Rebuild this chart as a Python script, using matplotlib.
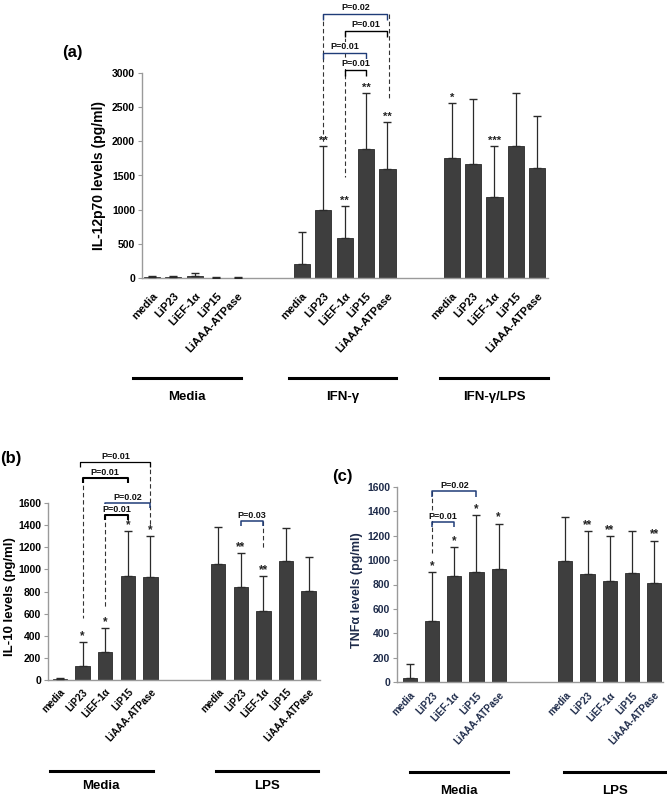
import matplotlib
matplotlib.use('Agg')
import matplotlib.pyplot as plt
import numpy as np
from matplotlib.transforms import blended_transform_factory
from matplotlib.lines import Line2D

plt.rcParams['font.family'] = ['Liberation Sans', 'DejaVu Sans']
plt.rcParams['font.weight'] = 'bold'

# ---------------- data ----------------
antigens = ['media', 'LiP23', 'LiEF-1α', 'LiP15', 'LiAAA-ATPase']

a_groups = ['Media', 'IFN-γ', 'IFN-γ/LPS']
a_mean = [[8, 8, 25, 5, 5], [210, 990, 590, 1890, 1600], [1760, 1670, 1180, 1935, 1610]]
a_err = [[22, 15, 45, 3, 3], [460, 940, 465, 820, 685], [800, 950, 755, 775, 760]]
a_stars = [['', '', '', '', ''], ['', '**', '**', '**', '**'], ['*', '', '***', '', '']]
a_ticks = [0, 500, 1000, 1500, 2000, 2500, 3000]

b_groups = ['Media', 'LPS']
b_mean = [[10, 130, 255, 940, 935], [1050, 840, 625, 1075, 805]]
b_err = [[5, 215, 215, 410, 365], [335, 310, 315, 300, 305]]
b_stars = [['', '*', '*', '*', '*'], ['', '**', '**', '', '']]
b_ticks = [0, 200, 400, 600, 800, 1000, 1200, 1400, 1600]

c_groups = ['Media', 'LPS']
c_mean = [[30, 500, 870, 905, 925], [990, 890, 825, 895, 810]]
c_err = [[120, 400, 235, 465, 375], [365, 350, 375, 340, 350]]
c_stars = [['', '*', '*', '*', '*'], ['', '**', '**', '', '**']]
c_ticks = [0, 200, 400, 600, 800, 1000, 1200, 1400, 1600]

# significance brackets: (label, left pos, right pos, bar height)
a_pvals = [('P=0.02', 8, 11, 3865), ('P=0.01', 9, 11, 3616),
           ('P=0.01', 8, 10, 3294), ('P=0.01', 9, 10, 3045)]
b_pvals = [('P=0.01', 0.9, 4, 1971), ('P=0.01', 1, 3, 1826),
           ('P=0.02', 2, 4, 1600), ('P=0.01', 2, 3, 1492), ('P=0.03', 8, 9, 1438)]
c_pvals = [('P=0.02', 1, 3, 1567), ('P=0.01', 1, 2, 1313)]

NAVY = '#1f3c78'
BAR = '#3e3e3e'
SPINE = '#9a9a9a'

W, H = 667, 799
fig = plt.figure(figsize=(W / 100, H / 100), dpi=100)


def px_ax(l, r, t, b):
    return [l / W, 1 - b / H, (r - l) / W, (b - t) / H]


def draw_panel(ax, groups, means, errs, stars, ticks, ylim, xlim, width,
               ylabel, tick_color, pad, star_fs, xfs, yl_fs):
    n = len(antigens)
    pos = []
    for g in range(len(groups)):
        pos.extend([g * 7 + k for k in range(n)])
    pos = np.array(pos)
    m = np.concatenate(means)
    e = np.concatenate(errs)
    ax.bar(pos, m, width=width, color=BAR, edgecolor='#2a2a2a', linewidth=0.6, zorder=2)
    ax.errorbar(pos, m, yerr=[np.zeros_like(e), e], fmt='none', ecolor='#2a2a2a',
                elinewidth=0.9, capsize=3, capthick=1.0, zorder=3)
    for x, top, s in zip(pos, m + e, np.concatenate(stars)):
        if s:
            ax.text(x, top, s, ha='center', va='bottom', fontsize=star_fs,
                    fontweight='bold', color='#222222', zorder=4)
    ax.set_xlim(*xlim)
    ax.set_ylim(*ylim)
    ax.set_yticks(ticks)
    ax.set_yticklabels([str(t) for t in ticks], fontsize=7.5, fontweight='bold', color=tick_color)
    ax.set_xticks(pos)
    ax.set_xticklabels(antigens * len(groups), rotation=47, ha='right',
                       rotation_mode='anchor', fontsize=xfs, fontweight='bold', color=tick_color)
    ax.tick_params(axis='x', length=0, pad=pad)
    ax.tick_params(axis='y', length=3, color=SPINE, width=0.8, pad=2)
    for s in ['top', 'right']:
        ax.spines[s].set_visible(False)
    for s in ['left', 'bottom']:
        ax.spines[s].set_color(SPINE)
        ax.spines[s].set_linewidth(1.0)
    ax.set_ylabel(ylabel, fontsize=yl_fs, fontweight='bold', color=tick_color)
    return pos, m + e


def bracket(ax, label, x1, x2, y, color, tick, text_dy, lw=1.0):
    ax.plot([x1, x1, x2, x2], [y - tick, y, y, y - tick], color=color, lw=lw,
            clip_on=False, zorder=5, solid_capstyle='butt')
    ax.text((x1 + x2) / 2, y + text_dy, label, ha='center', va='bottom', fontsize=6.5,
            fontweight='bold', color='#111111', clip_on=False, zorder=6,
            bbox=dict(facecolor='white', edgecolor='none', pad=0.3))


def dashed(ax, x, y1, y2, color='#333333'):
    ax.plot([x, x], [y1, y2], color=color, lw=0.8, ls=(0, (4, 2.5)), clip_on=False, zorder=4)


def group_lines(ax, extents, labels, y_line, y_text):
    tr = blended_transform_factory(ax.transData, fig.transFigure)
    for (x1, x2), lab in zip(extents, labels):
        fig.add_artist(Line2D([x1, x2], [1 - y_line / H] * 2, transform=tr, color='black', lw=2.2))
        fig.text((x1 + x2) / 2, 1 - y_text / H, lab, transform=tr, ha='center', va='center',
                 fontsize=9.5, fontweight='bold')


# ---------------- panel (a) ----------------
axa = fig.add_axes(px_ax(142, 548, 73, 278))
draw_panel(axa, a_groups, a_mean, a_err, a_stars, a_ticks, (0, 3000), (-0.47, 18.5), 0.75,
           'IL-12p70 levels (pg/ml)', 'black', 9, 8, 8, 10)
axa.yaxis.set_label_coords(-0.089, 0.5)
a_cols = [NAVY, 'black', NAVY, 'black']
for (lab, x1, x2, y), col in zip(a_pvals, a_cols):
    bracket(axa, lab, x1, x2, y, col, 90, 25)
dashed(axa, 8, 3865, 1960)
dashed(axa, 11.05, 3865, 2610)
dashed(axa, 9, 3616, 1480)
group_lines(axa, [(-0.9, 4.15), (6.4, 11.4), (13.45, 18.5)], a_groups, 378, 397)
fig.text(72 / W, 1 - 52 / H, '(a)', fontsize=12, fontweight='bold', ha='center', va='center')

# ---------------- panel (b) ----------------
axb = fig.add_axes(px_ax(48, 320, 503, 680))
draw_panel(axb, b_groups, b_mean, b_err, b_stars, b_ticks, (0, 1600), (-0.53, 11.5), 0.64,
           'IL-10 levels (pg/ml)', 'black', 5, 8.5, 7, 9.5)
axb.yaxis.set_label_coords(-0.118, 0.47)
b_cols = ['black', 'black', NAVY, 'black', NAVY]
b_lw = [0.9, 1.5, 1.1, 1.5, 1.1]
for (lab, x1, x2, y), col, lw in zip(b_pvals, b_cols, b_lw):
    bracket(axb, lab, x1, x2, y, col, 45, 12, lw)
dashed(axb, 4, 1971, 1390)
dashed(axb, 1, 1826, 560)
dashed(axb, 2, 1492, 660)
dashed(axb, 9, 1438, 1190)
group_lines(axb, [(-0.45, 4.1), (6.9, 11.4)], b_groups, 771, 786)
fig.text(11 / W, 1 - 458 / H, '(b)', fontsize=12, fontweight='bold', ha='center', va='center')

# ---------------- panel (c) ----------------
NAVYTXT = '#1e2b4a'
axc = fig.add_axes(px_ax(397, 663, 487, 682))
draw_panel(axc, c_groups, c_mean, c_err, c_stars, c_ticks, (0, 1600), (-0.58, 11.4), 0.64,
           'TNFα levels (pg/ml)', NAVYTXT, 6, 8.5, 7, 9)
axc.yaxis.set_label_coords(-0.126, 0.47)
for lab, x1, x2, y in c_pvals:
    bracket(axc, lab, x1, x2, y, NAVY, 45, 12, 1.1)
dashed(axc, 1, 1567, 1060)
group_lines(axc, [(0.0, 4.4), (6.95, 11.55)], c_groups, 772, 791)
fig.text(342 / W, 1 - 477 / H, '(c)', fontsize=12, fontweight='bold', ha='center', va='center')

fig.savefig('out.png', dpi=100)
